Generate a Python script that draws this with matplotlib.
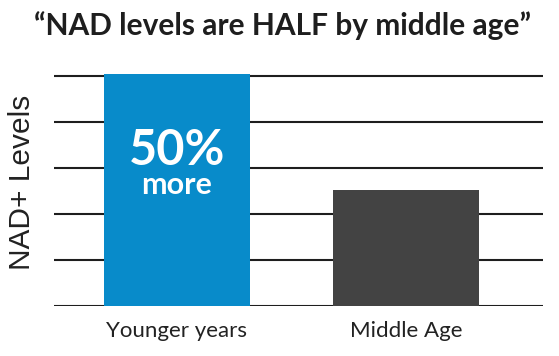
import matplotlib.pyplot as plt

categories = ["Younger years", "Middle Age"]
values = [101, 50.4]
bar_colors = ["#088bca", "#434343"]
grid_levels = [0, 20, 40, 60, 80, 100]

W, H = 559, 356
fig = plt.figure(figsize=(W / 100, H / 100), dpi=100)
ax = fig.add_axes([54 / W, 50.3 / H, 489 / W, 231.7 / H])

x = [0, 1]
ax.bar(x, values, width=0.638, color=bar_colors, zorder=3)

for lv in grid_levels:
    ax.axhline(lv, color="#1e1e1e", linewidth=1.5, zorder=1)

ax.set_xlim(-0.537, 1.598)
ax.set_ylim(0, 101)
ax.set_yticks([])
ax.set_xticks(x)
ax.set_xticklabels(categories, fontsize=16, family="Lato", color="#222222")
ax.tick_params(axis="x", length=0, pad=11)
for s in ax.spines.values():
    s.set_visible(False)

# text inside the blue bar
ax.text(0, 61.3, "50%", ha="center", va="baseline", color="white",
        fontsize=35, fontweight="bold", family="Lato", zorder=4)
ax.text(0, 48.7, "more", ha="center", va="baseline", color="white",
        fontsize=22, fontweight="bold", family="Lato", zorder=4)

fig.text(22.5 / W, 1 - 182 / H, "NAD+ Levels", rotation=90, ha="center", va="center",
         fontsize=21.5, family="Liberation Sans", color="#222222")
fig.text(282 / W, 1 - 35 / H, "\u201cNAD levels are HALF by middle age\u201d",
         ha="center", va="baseline", fontsize=21.5, fontweight="bold", family="Lato",
         color="#1e1e1e")

fig.savefig("out.png", dpi=100)
